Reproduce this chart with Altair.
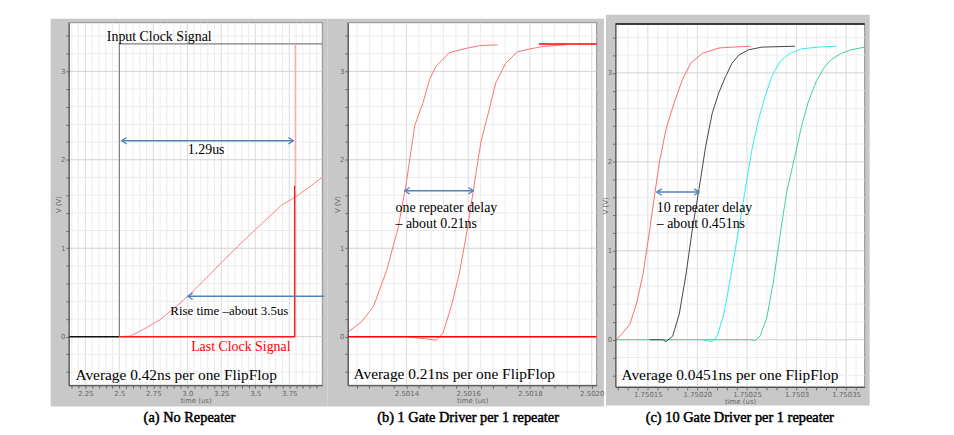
import altair as alt
import pandas as pd

SERIF = "Liberation Serif"
AXF = "DejaVu Sans"
BLUE = "#4f81bd"

# ---------------- Panel (a): No Repeater ----------------
a_xdom = [2.128, 3.993]
a_ydom = [-0.55, 3.55]
a_major = [2.25, 2.5, 2.75, 3.0, 3.25, 3.5, 3.75]
a_labels = ["2.25", "2.5", "2.75", "3.0", "3.25", "3.5", "3.75"]
a_minor_step = 0.05

a_input_low_t = [2.128, 2.5]
a_input_low_v = [0.0, 0.0]
a_input_t = [2.5, 2.5, 3.993]
a_input_v = [0.0, 3.31, 3.31]
a_last_t = [2.5, 3.79, 3.79]
a_last_v = [0.0, 0.0, 1.71]
a_last_up_t = [3.795, 3.795]
a_last_up_v = [1.71, 3.31]
a_ramp_t = [2.5, 2.579, 2.675, 2.797, 2.918, 3.003, 3.112, 3.258, 3.404, 3.55, 3.695, 3.797, 3.914, 3.99]
a_ramp_v = [0.0, 0.007, 0.08, 0.19, 0.34, 0.456, 0.62, 0.85, 1.07, 1.28, 1.49, 1.58, 1.71, 1.80]

a_arrow_t1 = [2.5175, 3.003]
a_arrow_t2 = [3.78, 4.007]
a_arrow_v = [2.215, 0.456]
a_arrow_heads = ["both", "left"]

a_text = ["Input Clock Signal", "1.29us", "Rise time \u2013about 3.5us", "Last Clock Signal",
          "Average 0.42ns per one FlipFlop"]
a_text_t = [2.408, 3.004, 2.875, 3.028, 2.177]
a_text_v = [3.345, 2.065, 0.25, -0.165, -0.485]
a_text_size = [14, 14, 13, 14, 15.5]
a_text_color = ["#000000", "#000000", "#000000", "#ff0000", "#000000"]

# ---------------- Panel (b): 1 Gate Driver per 1 repeater ----------------
b_xdom = [2.50121, 2.502016]
b_ydom = [-0.55, 3.55]
b_major = [2.5014, 2.5016, 2.5018, 2.502]
b_labels = ["2.5014", "2.5016", "2.5018", "2.5020"]
b_minor_step = 0.00004

b_base_t = [2.50121, 2.502016]
b_base_v = [0.0, 0.0]
b_top_t = [2.501829, 2.502016]
b_top_v = [3.31, 3.31]
b_c1_t = [2.50121, 2.501255, 2.501293, 2.501336, 2.501373, 2.5014, 2.501427, 2.501454,
          2.501475, 2.501496, 2.501539, 2.501593, 2.501636, 2.501695]
b_c1_v = [0.05, 0.17, 0.34, 0.75, 1.23, 1.75, 2.39, 2.65, 2.91, 3.06, 3.21, 3.26, 3.29, 3.30]
b_c2_t = [2.5014, 2.50145, 2.501496, 2.501518, 2.501545, 2.501571, 2.501598, 2.501619,
          2.501641, 2.501668, 2.501689, 2.501721, 2.501759, 2.501796, 2.501839, 2.501914]
b_c2_v = [0.0, -0.02, -0.04, 0.04, 0.34, 0.71, 1.23, 1.71, 2.20, 2.57, 2.87, 3.09, 3.22,
          3.25, 3.28, 3.30]

b_arrow_t1 = [2.5013945]
b_arrow_t2 = [2.5016164]
b_arrow_v = [1.65]
b_arrow_heads = ["both"]

b_text = ["one repeater delay", "\u2013 about 0.21ns", "Average 0.21ns per one FlipFlop"]
b_text_t = [2.5013646, 2.5013646, 2.5012286]
b_text_v = [1.414, 1.233, -0.477]
b_text_size = [14, 14, 15.5]
b_text_color = ["#000000", "#000000", "#000000"]

# ---------------- Panel (c): 10 Gate Driver per 1 repeater ----------------
c_xdom = [1.7501174, 1.7503687]
c_ydom = [-0.53, 3.55]
c_major = [1.75015, 1.7502, 1.75025, 1.7503, 1.75035]
c_labels = ["1.75015", "1.75020", "1.75025", "1.7503", "1.75035"]
c_minor_step = 0.00001

c_red_t = [1.750118, 1.7501217, 1.7501317, 1.7501384, 1.750145, 1.7501517, 1.7501567,
           1.7501617, 1.7501684, 1.7501767, 1.750185, 1.7501934, 1.750205, 1.7502217,
           1.750235, 1.7502534]
c_red_v = [0.0, 0.04, 0.17, 0.40, 0.73, 1.22, 1.62, 2.00, 2.37, 2.67, 2.93, 3.11, 3.22,
           3.28, 3.29, 3.30]
c_blk_t = [1.7501517, 1.750165, 1.7501684, 1.750175, 1.7501817, 1.7501884, 1.750195,
           1.7502017, 1.7502084, 1.750215, 1.7502217, 1.7502284, 1.750235, 1.7502417,
           1.7502517, 1.750265, 1.7502984]
c_blk_v = [0.0, 0.0, -0.02, 0.04, 0.29, 0.73, 1.25, 1.70, 2.18, 2.55, 2.78, 2.96, 3.11,
           3.20, 3.26, 3.29, 3.30]
c_cyan_t = [1.750205, 1.750215, 1.75022, 1.7502267, 1.7502334, 1.7502417, 1.7502484,
            1.750255, 1.7502617, 1.7502684, 1.750275, 1.7502834, 1.7502934, 1.750305,
            1.7503217, 1.75034]
c_cyan_v = [0.0, -0.02, 0.045, 0.29, 0.70, 1.25, 1.70, 2.14, 2.48, 2.74, 2.96, 3.13, 3.22,
            3.27, 3.29, 3.30]
c_grn_t = [1.750118, 1.7502534, 1.7502584, 1.7502634, 1.75027, 1.7502767, 1.7502834,
           1.75029, 1.7502984, 1.750305, 1.7503117, 1.75032, 1.7503284, 1.750335,
           1.750345, 1.750355, 1.7503687]
c_grn_v = [0.0, 0.0, -0.01, 0.045, 0.25, 0.66, 1.18, 1.66, 2.07, 2.40, 2.67, 2.91, 3.07,
           3.15, 3.22, 3.26, 3.29]

c_arrow_t1 = [1.750159]
c_arrow_t2 = [1.7502017]
c_arrow_v = [1.66]
c_arrow_heads = ["both"]

c_text = ["10 repeater delay", "\u2013 about 0.451ns", "Average 0.0451ns per one FlipFlop"]
c_text_t = [1.750159, 1.750159, 1.7501234]
c_text_v = [1.44, 1.257, -0.45]
c_text_size = [14, 14, 15.5]
c_text_color = ["#000000", "#000000", "#000000"]

y_major = [0, 1, 2, 3]
y_labels = ["0", "1", "2", "3"]
y_minor = [round(-0.4 + 0.2 * k, 1) for k in range(20)]

captions = ["(a) No Repeater", "(b) 1 Gate Driver per 1 repeater", "(c) 10 Gate Driver per 1 repeater"]

# ---------------- helpers ----------------
def label_expr(vals, labels):
    parts = [f"abs(datum.value - ({v})) < 1e-9 ? '{l}'" for v, l in zip(vals, labels)]
    return " : ".join(parts) + " : ''"


def minor_ticks(dom, step):
    k0 = int(dom[0] / step) + 1
    out = []
    k = k0
    while k * step <= dom[1]:
        out.append(round(k * step, 8))
        k += 1
    return out


def make_panel(xdom, ydom, xrange_px, yrange_px, major, labels, mstep, series, arrows, texts,
               x_off, y_off, top_black=False):
    xs = alt.Scale(domain=xdom, range=xrange_px, nice=False, zero=False)
    ys = alt.Scale(domain=ydom, range=yrange_px, nice=False, zero=False)
    xminor = minor_ticks(xdom, mstep)
    xax = alt.Axis(orient="bottom", offset=x_off, values=xminor, labelExpr=label_expr(major, labels),
                   labelOverlap=False, labelFlush=False, grid=False, tickSize=3, tickColor="#555",
                   tickWidth=0.8, domainColor="#444", domainWidth=1, labelFont=AXF, labelFontSize=7,
                   labelColor="#666", labelPadding=1, title="time (us)", titleFont=AXF,
                   titleFontSize=7, titleFontWeight="normal", titleColor="#666", titlePadding=0,
                   zindex=1)
    yax = alt.Axis(orient="left", offset=y_off, values=y_minor, labelExpr=label_expr(y_major, y_labels),
                   labelOverlap=False, labelFlush=False, grid=False, tickSize=3, tickColor="#555",
                   tickWidth=0.8, domainColor="#444", domainWidth=1, labelFont=AXF, labelFontSize=7,
                   labelColor="#666", labelPadding=1, title="V (V)", titleFont=AXF, titleFontSize=7,
                   titleFontWeight="normal", titleColor="#666", titleX=-10, titleBaseline="middle",
                   zindex=1)

    def X(f):
        return alt.X(f, type="quantitative", scale=xs, axis=xax)

    def Y(f):
        return alt.Y(f, type="quantitative", scale=ys, axis=yax)

    layers = []
    box = pd.DataFrame({"x0": [xdom[0]], "x1": [xdom[1]], "y0": [ydom[0]], "y1": [ydom[1]]})
    layers.append(alt.Chart(box).mark_rect(fill="white", stroke="#8c8c8c", strokeWidth=1).encode(
        x=X("x0"), x2="x1", y=Y("y0"), y2="y1"))

    xmaj_in = [v for v in major if xdom[0] <= v <= xdom[1]]
    xmin_only = [v for v in xminor if all(abs(v - m) > 1e-9 for m in major)]
    ymin_only = [v for v in y_minor if v not in y_major]
    for vals, col in ((xmin_only, "#ececec"), (xmaj_in, "#dadada")):
        d = pd.DataFrame({"x": vals, "y0": ydom[0], "y1": ydom[1]})
        layers.append(alt.Chart(d).mark_rule(color=col, strokeWidth=1).encode(
            x=X("x"), y=Y("y0"), y2="y1"))
    for vals, col in ((ymin_only, "#ececec"), (y_major, "#d0d0d0")):
        d = pd.DataFrame({"y": vals, "x0": xdom[0], "x1": xdom[1]})
        layers.append(alt.Chart(d).mark_rule(color=col, strokeWidth=1).encode(
            y=Y("y"), x=X("x0"), x2="x1"))
    if top_black:
        d = pd.DataFrame({"y": [ydom[1]], "x0": [xdom[0]], "x1": [xdom[1]]})
        layers.append(alt.Chart(d).mark_rule(color="#111", strokeWidth=1.5).encode(
            y=Y("y"), x=X("x0"), x2="x1"))

    for t, v, col, w in series:
        d = pd.DataFrame({"t": t, "v": v, "i": list(range(len(t)))})
        layers.append(alt.Chart(d).mark_line(color=col, strokeWidth=w).encode(
            x=X("t"), y=Y("v"), order="i:Q"))

    t1s, t2s, vs, heads = arrows
    d = pd.DataFrame({"t1": t1s, "t2": t2s, "v": vs})
    layers.append(alt.Chart(d).mark_rule(color=BLUE, strokeWidth=1.5).encode(
        x=X("t1"), x2="t2", y=Y("v")))
    lh = pd.DataFrame({"t": t1s, "v": vs})
    rh = pd.DataFrame({"t": [t for t, h in zip(t2s, heads) if h == "both"],
                       "v": [v for v, h in zip(vs, heads) if h == "both"]})
    layers.append(alt.Chart(lh).mark_point(shape="M1,-0.65L0,0L1,0.65", filled=False, size=100,
                                           stroke=BLUE, strokeWidth=1.3, opacity=1).encode(
        x=X("t"), y=Y("v")))
    if len(rh):
        layers.append(alt.Chart(rh).mark_point(shape="M-1,-0.65L0,0L-1,0.65", filled=False, size=100,
                                               stroke=BLUE, strokeWidth=1.3, opacity=1).encode(
            x=X("t"), y=Y("v")))

    for lab, t, v, sz, col in zip(*texts):
        d = pd.DataFrame({"t": [t], "v": [v], "lab": [lab]})
        layers.append(alt.Chart(d).mark_text(font=SERIF, fontSize=sz, color=col, align="left",
                                             baseline="alphabetic").encode(
            x=X("t"), y=Y("v"), text="lab:N"))
    return alt.layer(*layers)


# page coords minus 8px margin = view coords
pa = make_panel(a_xdom, a_ydom, [61.3, 317], [378.7, 13], a_major, a_labels, a_minor_step,
                [(a_input_low_t, a_input_low_v, "#111111", 1.5),
                 (a_input_t, a_input_v, "#808080", 1.2),
                 (a_ramp_t, a_ramp_v, "#ff8080", 1),
                 (a_last_t, a_last_v, "#ff1a1a", 1.5),
                 (a_last_up_t, a_last_up_v, "#ffaaaa", 1.5)],
                (a_arrow_t1, a_arrow_t2, a_arrow_v, a_arrow_heads),
                (a_text, a_text_t, a_text_v, a_text_size, a_text_color),
                x_off=-48.3, y_off=-61.3)

pb = make_panel(b_xdom, b_ydom, [342.7, 593.7], [378.7, 13], b_major, b_labels, b_minor_step,
                [(b_c1_t, b_c1_v, "#ff7070", 1),
                 (b_c2_t, b_c2_v, "#ff7070", 1),
                 (b_base_t, b_base_v, "#ff0000", 1.5),
                 (b_top_t, b_top_v, "#ff0000", 1.5)],
                (b_arrow_t1, b_arrow_t2, b_arrow_v, b_arrow_heads),
                (b_text, b_text_t, b_text_v, b_text_size, b_text_color),
                x_off=-48.3, y_off=-342.7)

pc = make_panel(c_xdom, c_ydom, [612.7, 864], [380.3, 14.3], c_major, c_labels, c_minor_step,
                [(c_grn_t, c_grn_v, "#3fd28f", 1),
                 (c_red_t, c_red_v, "#ff6a6a", 1),
                 (c_blk_t, c_blk_v, "#454545", 1),
                 (c_cyan_t, c_cyan_v, "#30ecec", 1)],
                (c_arrow_t1, c_arrow_t2, c_arrow_v, c_arrow_heads),
                (c_text, c_text_t, c_text_v, c_text_size, c_text_color),
                x_off=-46.7, y_off=-612.7, top_black=True)

one = pd.DataFrame({"k": [0]})
frames = [(43, 322, 9, 400), (322, 601, 9, 400), (603, 869, 5, 399)]
bg_layers = []
for x0, x1, y0, y1 in frames:
    bg_layers.append(alt.Chart(one).mark_rect(fill="#c8c8c8").encode(
        x=alt.value(x0), x2=alt.value(x1), y=alt.value(y0), y2=alt.value(y1)))
cap_x = [183, 464, 738]
for cap, cx in zip(captions, cap_x):
    d = pd.DataFrame({"lab": [cap]})
    bg_layers.append(alt.Chart(d).mark_text(font=SERIF, fontSize=14.5, fontWeight="normal",
                                            color="#000", stroke="#000", strokeWidth=0.5,
                                            align="center", baseline="alphabetic").encode(
        x=alt.value(cx), y=alt.value(416), text="lab:N"))
bg = alt.layer(*bg_layers)

chart = alt.layer(bg, pa, pb, pc).resolve_scale(
    x="independent", y="independent"
).resolve_axis(
    x="independent", y="independent"
).properties(
    width=946, height=427, padding=0, background="white",
    autosize=alt.AutoSizeParams(type="none")
).configure_view(stroke="transparent")

chart.save("out.html", embed_options={"renderer": "svg", "actions": False})
